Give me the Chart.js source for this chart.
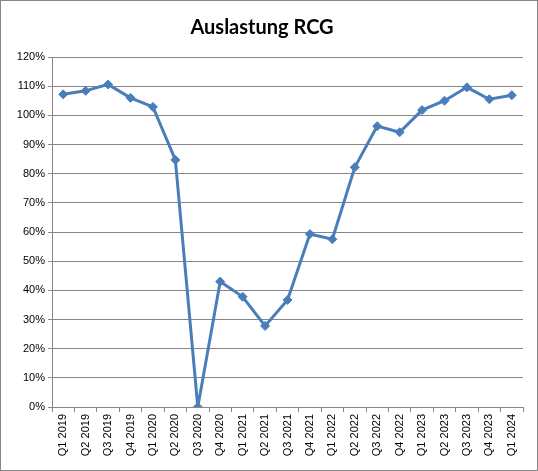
<!DOCTYPE html>
<html><head><meta charset="utf-8">
<script src="https://cdn.jsdelivr.net/npm/chart.js@4"></script>
<style>
html,body{margin:0;padding:0;background:#fff;}
#wrap{position:absolute;left:0;top:0;width:536px;height:469px;border:1px solid #868686;}
canvas{display:block;}
</style></head><body>
<div id="wrap"><canvas id="c" width="536" height="469"></canvas></div>
<script>
const categories = ["Q1 2019","Q2 2019","Q3 2019","Q4 2019","Q1 2020","Q2 2020","Q3 2020","Q4 2020","Q1 2021","Q2 2021","Q3 2021","Q4 2021","Q1 2022","Q2 2022","Q3 2022","Q4 2022","Q1 2023","Q2 2023","Q3 2023","Q4 2023","Q1 2024"];
const auslastung = [107.2,108.4,110.6,106.0,102.9,84.7,0,43.0,37.8,27.8,36.7,59.3,57.5,82.2,96.3,94.2,101.8,105.0,109.6,105.5,106.9];
const yTicks = [0,10,20,30,40,50,60,70,80,90,100,110,120];
const titleText = "Auslastung RCG";

new Chart(document.getElementById('c'), {
  type: 'line',
  data: {
    labels: categories,
    datasets: [{
      data: auslastung,
      borderColor: '#4A7EBB',
      backgroundColor: '#4A7EBB',
      borderWidth: 3,
      pointStyle: 'rectRot',
      pointRadius: 4.5,
      pointBorderWidth: 1,
      tension: 0,
      fill: false
    }]
  },
  options: {
    responsive: false,
    animation: false,
    layout: { padding: { left: 0, right: 14, top: 0, bottom: 0 } },
    plugins: {
      legend: { display: false },
      tooltip: { enabled: false },
      title: {
        display: true,
        text: titleText,
        color: '#000',
        font: { family: 'Lato', size: 20, weight: 'bold' },
        padding: { top: 15, bottom: 17 }
      }
    },
    scales: {
      x: {
        offset: true,
        grid: { display: true, drawOnChartArea: false, offset: true, tickLength: 5, color: '#868686' },
        border: { color: '#868686' },
        ticks: {
          minRotation: 90, maxRotation: 90, autoSkip: false,
          color: '#000', padding: 2,
          font: { family: 'Liberation Sans', size: 11 }
        },
        afterFit: s => { s.height = 63; }
      },
      y: {
        min: 0, max: 120,
        afterBuildTicks: s => { s.ticks = yTicks.map(v => ({ value: v })); },
        grid: { color: '#868686', tickLength: 4 },
        border: { color: '#868686' },
        ticks: {
          color: '#000', padding: 3,
          font: { family: 'Liberation Sans', size: 11 },
          callback: v => v + '%'
        },
        afterFit: s => { s.width = 51; }
      }
    }
  }
});
</script>
</body></html>
